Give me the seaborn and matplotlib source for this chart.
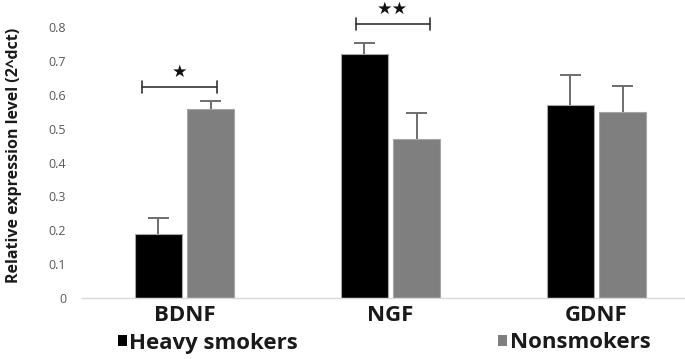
import matplotlib
matplotlib.use("Agg")
import matplotlib.pyplot as plt
import seaborn as sns
import pandas as pd
from matplotlib.patches import Patch

genes = ["BDNF", "NGF", "GDNF"]
groups = ["Heavy smokers", "Nonsmokers"]
heavy = [0.19, 0.72, 0.57]
heavy_err = [0.047, 0.033, 0.089]
non = [0.557, 0.469, 0.550]
non_err = [0.024, 0.077, 0.076]
yticks = [0, 0.1, 0.2, 0.3, 0.4, 0.5, 0.6, 0.7, 0.8]
ytick_labels = ["0", "0.1", "0.2", "0.3", "0.4", "0.5", "0.6", "0.7", "0.8"]

sns.set_theme(style="white")
plt.rcParams["font.family"] = ["Open Sans", "DejaVu Sans"]

df = pd.DataFrame({
    "gene": genes * 2,
    "group": [groups[0]] * 3 + [groups[1]] * 3,
    "value": heavy + non,
    "err": heavy_err + non_err,
})

colors = {"Heavy smokers": "#000000", "Nonsmokers": "#7f7f7f"}

fig = plt.figure(figsize=(6.85, 3.59), dpi=100)
ax = fig.add_axes([81.5 / 685, 61 / 359, 618 / 685, 271 / 359])

sns.barplot(data=df, x="gene", y="value", hue="group", order=genes,
            hue_order=groups, palette=colors, width=0.51, gap=0.1,
            errorbar=None, ax=ax, edgecolor="#a6a6a6", linewidth=0.8,
            legend=False)

# error bars (upper only) at the centers of the drawn bars
bars = [p for p in ax.patches if p.get_height() > 0]
bars = sorted(bars, key=lambda p: p.get_x())
errs = [heavy_err[0], non_err[0], heavy_err[1], non_err[1], heavy_err[2], non_err[2]]
cap_half = 0.05
for p, e in zip(bars, errs):
    cx = p.get_x() + p.get_width() / 2
    top = p.get_height()
    ax.vlines(cx, top, top + e, color="#6e6e6e", lw=1.4, zorder=3)
    ax.hlines(top + e, cx - cap_half, cx + cap_half, color="#6e6e6e", lw=1.4, zorder=3)

ax.set_xlim(-0.5, 2.5)
ax.set_ylim(0, 0.8)
ax.set_yticks(yticks)
ax.set_yticklabels(ytick_labels)
ax.tick_params(axis="y", length=0, pad=11, labelsize=9, labelcolor="#595959")
ax.tick_params(axis="x", length=0, pad=5, labelsize=16)
for lab in ax.get_xticklabels():
    lab.set_fontweight("bold")
    lab.set_color("#1a1a1a")

for s in ["top", "right", "left"]:
    ax.spines[s].set_visible(False)
ax.spines["bottom"].set_color("#d9d9d9")
ax.spines["bottom"].set_linewidth(1.0)

ax.set_xlabel("")
ax.set_ylabel("Relative expression level (2^dct)", fontsize=11.5,
              fontweight="bold", color="#1a1a1a")
ax.yaxis.set_label_coords(-0.096, 0.526)

# significance brackets
def bracket(x0, x1, y, label, ys):
    ax.plot([x0, x1], [y, y], color="#333333", lw=1.2, clip_on=False)
    for xx in (x0, x1):
        ax.plot([xx, xx], [y - 0.018, y + 0.018], color="#333333", lw=1.2, clip_on=False)
    ax.text((x0 + x1) / 2 + 0.0, ys, label, ha="center", va="center",
            fontsize=12.5, color="#111111", family=["DejaVu Sans"], clip_on=False)

bracket(-0.208, 0.158, 0.624, "★", 0.667)
bracket(0.831, 1.192, 0.809, "★★", 0.852)

handles = [Patch(facecolor=colors[g], edgecolor="none") for g in groups]
leg = fig.legend(handles, groups, loc="center", bbox_to_anchor=(384 / 685, 1 - 343 / 359),
                 ncol=2, frameon=False, handlelength=0.42, handleheight=0.42,
                 handletextpad=0.1, columnspacing=9.0,
                 prop={"size": 16, "weight": "bold"})
for t in leg.get_texts():
    t.set_color("#1a1a1a")

fig.savefig("out.png", dpi=100)
